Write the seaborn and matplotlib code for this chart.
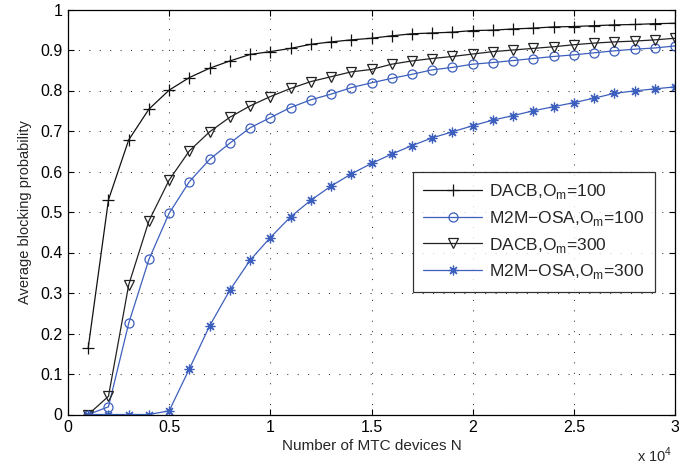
import numpy as np
import pandas as pd
import matplotlib
matplotlib.use("Agg")
import matplotlib.pyplot as plt
import seaborn as sns

# Number of MTC devices (x axis), every 1000 devices
devices = list(range(1000, 31000, 1000))

dacb_100 = [0.165, 0.530, 0.678, 0.754, 0.801, 0.832, 0.855, 0.873, 0.889, 0.896,
            0.904, 0.914, 0.920, 0.925, 0.929, 0.935, 0.940, 0.942, 0.944, 0.948,
            0.949, 0.952, 0.954, 0.957, 0.958, 0.960, 0.962, 0.963, 0.965, 0.966]
osa_100 = [0.000, 0.019, 0.225, 0.383, 0.497, 0.575, 0.630, 0.670, 0.708, 0.733,
           0.758, 0.777, 0.791, 0.807, 0.819, 0.830, 0.840, 0.851, 0.857, 0.865,
           0.869, 0.874, 0.879, 0.884, 0.888, 0.893, 0.898, 0.902, 0.905, 0.910]
dacb_300 = [0.000, 0.045, 0.320, 0.478, 0.579, 0.651, 0.698, 0.734, 0.762, 0.785,
            0.805, 0.822, 0.834, 0.846, 0.852, 0.865, 0.873, 0.879, 0.884, 0.890,
            0.896, 0.900, 0.904, 0.908, 0.913, 0.917, 0.920, 0.922, 0.925, 0.929]
osa_300 = [0.000, 0.000, 0.000, 0.000, 0.009, 0.113, 0.219, 0.307, 0.381, 0.437,
           0.488, 0.529, 0.564, 0.594, 0.620, 0.643, 0.664, 0.683, 0.698, 0.713,
           0.727, 0.738, 0.750, 0.760, 0.770, 0.781, 0.793, 0.799, 0.804, 0.809]

x_ticks = [0, 5000, 10000, 15000, 20000, 25000, 30000]
x_tick_labels = ["0", "0.5", "1", "1.5", "2", "2.5", "3"]
y_ticks = [0, 0.1, 0.2, 0.3, 0.4, 0.5, 0.6, 0.7, 0.8, 0.9, 1.0]
y_tick_labels = ["0", "0.1", "0.2", "0.3", "0.4", "0.5", "0.6", "0.7", "0.8", "0.9", "1"]

sns.set_style("ticks")
plt.rcParams["font.family"] = ["Liberation Sans", "DejaVu Sans"]
plt.rcParams["mathtext.fontset"] = "custom"
plt.rcParams["mathtext.rm"] = "Liberation Sans"

BLUE = "#3d5fbd"
BLACK = "#111111"
ASTERISK = (8, 2, 0)  # eight-armed asterisk

fig = plt.figure(figsize=(6.79, 4.66), dpi=100)
ax = fig.add_axes([68 / 679, 1 - 414.5 / 466, 607 / 679, 405 / 466])

series = [
    ("DACB,O$_\\mathregular{m}$=100", dacb_100, BLACK, "+", 8.0),
    ("M2M\u2212OSA,O$_\\mathregular{m}$=100", osa_100, BLUE, "o", 6.5),
    ("DACB,O$_\\mathregular{m}$=300", dacb_300, "#222222", "v", 7.5),
    ("M2M\u2212OSA,O$_\\mathregular{m}$=300", osa_300, BLUE, ASTERISK, 7.0),
]

for label, vals, color, marker, ms in series:
    df = pd.DataFrame({"N": devices, "p": vals})
    sns.lineplot(data=df, x="N", y="p", ax=ax, color=color, linewidth=0.9,
                 marker=marker, markersize=ms, markerfacecolor="none",
                 markeredgecolor=color, markeredgewidth=0.9, label=label)

ax.set_xlim(0, 30000)
ax.set_ylim(0, 1)
ax.set_xticks(x_ticks)
ax.set_xticklabels(x_tick_labels)
ax.set_yticks(y_ticks)
ax.set_yticklabels(y_tick_labels)

ax.grid(True, linestyle=(0, (1, 9)), color="#333333", linewidth=0.75)
for side in ["top", "right", "left", "bottom"]:
    ax.spines[side].set_visible(True)
    ax.spines[side].set_color("black")
    ax.spines[side].set_linewidth(0.9)
ax.tick_params(direction="in", length=4, width=0.8, top=True, right=True,
               labelsize=11.5, colors="black", pad=4)

ax.set_xlabel("Number of MTC devices N", fontsize=11, labelpad=3)
ax.set_ylabel("Average blocking probability", fontsize=10.5, labelpad=6)
ax.text(0.996, -0.078, "x 10$^\\mathregular{4}$", transform=ax.transAxes,
        ha="right", va="top", fontsize=10.5)

leg = ax.legend(loc="upper left", bbox_to_anchor=(0.568, 0.60), fontsize=12.5,
                frameon=True, fancybox=False, edgecolor="black",
                borderpad=0.6, labelspacing=0.45, handlelength=3.4,
                handletextpad=0.4, borderaxespad=0)
leg.get_frame().set_linewidth(0.9)

fig.savefig("out.png", dpi=100)
